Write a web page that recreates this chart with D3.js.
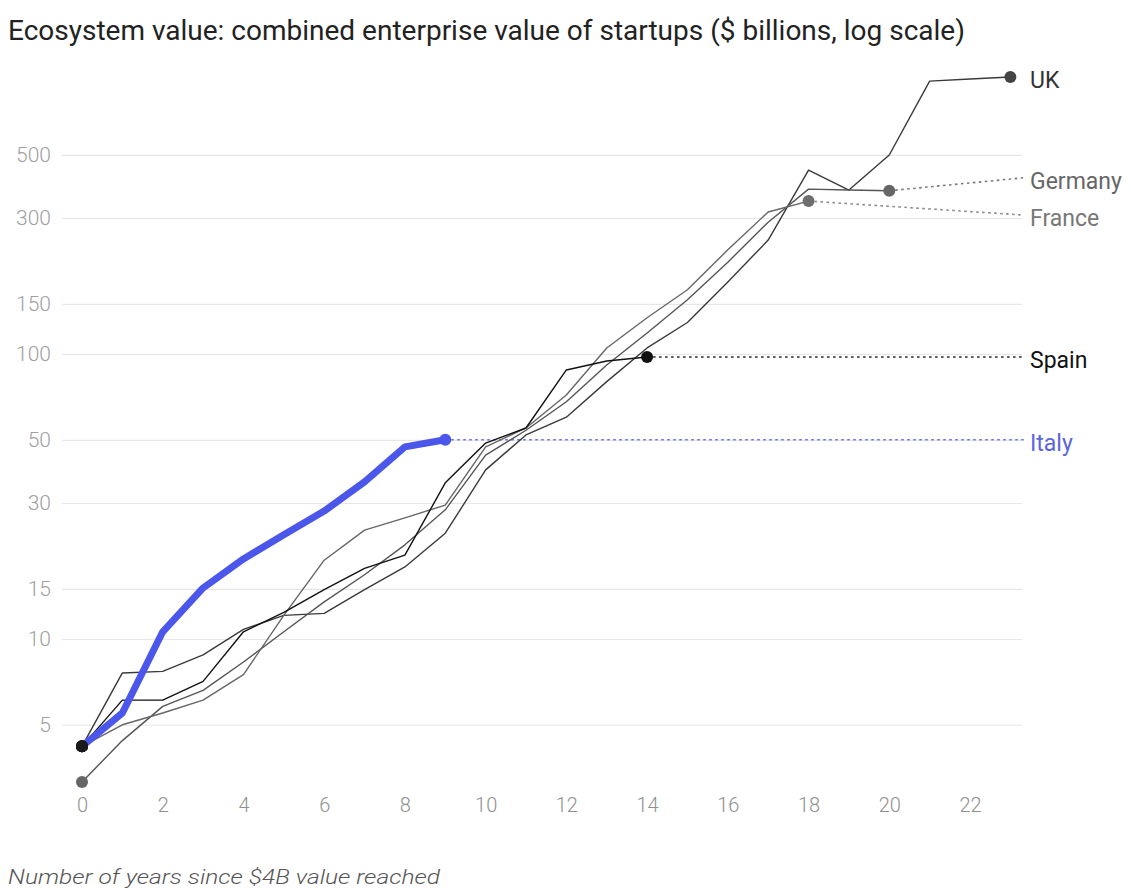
<!DOCTYPE html>
<html>
<head>
<meta charset="utf-8">
<script src="https://cdn.jsdelivr.net/npm/d3@7"></script>
<style>
  html, body { margin: 0; padding: 0; background: #fff; }
  svg { display: block; font-family: Roboto, "Open Sans", sans-serif; }
</style>
</head>
<body>
<svg id="chart" width="1131" height="888"></svg>
<script>
// Years since each ecosystem passed $4B in combined value
const years = d3.range(0, 24);

// Combined enterprise value, $ billions, one entry per year
const ukValues      = [4.2, 7.6, 7.7, 8.8, 10.8, 12.1, 12.3, 14.9, 17.9, 23.5, 39.2, 52, 60, 80, 105, 129, 179, 251, 442, 376, 499, 907, 922, 937];
const germanyValues = [3.15, 4.4, 5.8, 6.6, 8.3, 10.6, 13.5, 16.8, 21.4, 28.4, 44.2, 54, 68, 91.5, 118.5, 155, 210, 290, 379, 376, 374];
const franceValues  = [4.2, 5.0, 5.5, 6.1, 7.5, 12.1, 18.9, 24.1, 26.6, 29.5, 47.2, 55, 71.8, 105, 134, 168, 232, 315, 344];
const spainValues   = [4.2, 6.1, 6.1, 7.1, 10.6, 12.4, 14.9, 17.7, 19.7, 35.3, 48.7, 55, 87.9, 94.5, 97.6];
const italyValues   = [4.2, 5.5, 10.6, 15.1, 19.1, 23.2, 28.1, 35.6, 47.2, 50];

const countries = ["UK", "Germany", "France", "Spain", "Italy"];
const yTicks = [5, 10, 15, 30, 50, 100, 150, 300, 500];
const xTicks = d3.range(0, 23, 2);

const seriesValues = [ukValues, germanyValues, franceValues, spainValues, italyValues];

const style = {
  UK:      { line: "#3a3a3a", dot: "#444",    text: "#333",    width: 1.4, trail: null,      nudge: 0 },
  Germany: { line: "#555",    dot: "#666",    text: "#666",    width: 1.4, trail: "#777",    nudge: -13 },
  France:  { line: "#666",    dot: "#6e6e6e", text: "#777",    width: 1.4, trail: "#888",    nudge: 14 },
  Spain:   { line: "#111",    dot: "#111",    text: "#111",    width: 1.4, trail: "#222",    nudge: 0 },
  Italy:   { line: "#4a57ea", dot: "#4a57ea", text: "#5a66e0", width: 7,   trail: "#6672e4", nudge: 0 }
};

const series = countries.map((name, i) => ({
  name,
  points: seriesValues[i].map((v, j) => ({ t: years[j], v }))
}));

const svg = d3.select("#chart");

const x = d3.scaleLinear().domain([0, 22]).range([82, 970]);
const y = d3.scaleLog().domain([3, 1000]).range([788, 69]);
const labelX = 1030;
const gridLeft = 62, gridRight = 1022;

// Title
svg.append("text")
  .attr("x", 8).attr("y", 40)
  .attr("font-size", 28)
  .attr("fill", "#222")
  .text("Ecosystem value: combined enterprise value of startups ($ billions, log scale)");

// Horizontal gridlines
const gy = svg.append("g")
  .attr("transform", `translate(${gridRight},0)`)
  .call(d3.axisLeft(y).tickValues(yTicks).tickSize(gridRight - gridLeft).tickFormat(""));
gy.select(".domain").remove();
gy.selectAll(".tick line").attr("stroke", "#e6e6e6").attr("stroke-width", 1.2);

// Value labels on the left
const gyl = svg.append("g")
  .attr("transform", "translate(51,0)")
  .call(d3.axisLeft(y).tickValues(yTicks).tickSize(0).tickPadding(0).tickFormat(d3.format("d")));
gyl.select(".domain").remove();
gyl.selectAll("text")
  .attr("font-family", "Roboto, sans-serif")
  .attr("font-size", 21)
  .attr("font-weight", 300)
  .attr("fill", "#a0a0a0");

// Year labels along the bottom
const gx = svg.append("g")
  .attr("transform", "translate(0,795)")
  .call(d3.axisBottom(x).tickValues(xTicks).tickSize(0).tickPadding(0));
gx.select(".domain").remove();
gx.selectAll("text")
  .attr("font-family", "Roboto, sans-serif")
  .attr("font-size", 20)
  .attr("font-weight", 300)
  .attr("fill", "#909090")
  .attr("dy", "0.85em");

// Dotted trails from each series' latest value to its label
series.forEach(s => {
  const st = style[s.name];
  const last = s.points[s.points.length - 1];
  if (!st.trail) return;
  svg.append("line")
    .attr("x1", x(last.t)).attr("y1", y(last.v))
    .attr("x2", labelX - 6).attr("y2", y(last.v) + st.nudge)
    .attr("stroke", st.trail)
    .attr("stroke-width", 1.6)
    .attr("stroke-dasharray", "2.5,3.5");
});

const line = d3.line()
  .x(d => x(d.t))
  .y(d => y(d.v));

// Thin grey/black lines first, Italy on top
series.forEach(s => {
  const st = style[s.name];
  svg.append("path")
    .datum(s.points)
    .attr("fill", "none")
    .attr("stroke", st.line)
    .attr("stroke-width", st.width)
    .attr("stroke-linejoin", "round")
    .attr("stroke-linecap", "round")
    .attr("d", line);
});

// End markers
series.forEach(s => {
  const st = style[s.name];
  const last = s.points[s.points.length - 1];
  svg.append("circle")
    .attr("cx", x(last.t)).attr("cy", y(last.v))
    .attr("r", 6)
    .attr("fill", st.dot);
});

// Start markers drawn over the line ends
series.forEach(s => {
  const first = s.points[0];
  svg.append("circle")
    .attr("cx", x(first.t)).attr("cy", y(first.v))
    .attr("r", 6)
    .attr("fill", s.name === "Germany" ? "#666" : "#1a1a1a");
});

// Country labels
series.forEach(s => {
  const st = style[s.name];
  const last = s.points[s.points.length - 1];
  svg.append("text")
    .attr("x", labelX)
    .attr("y", y(last.v) + st.nudge + 3)
    .attr("dy", "0.36em")
    .attr("font-size", 23)
    .attr("fill", st.text)
    .text(s.name);
});

// Horizontal axis caption
svg.append("text")
  .attr("x", 8).attr("y", 884)
  .attr("font-size", 21)
  .attr("font-style", "italic")
  .attr("font-weight", 300)
  .attr("fill", "#555")
  .attr("textLength", 432)
  .attr("lengthAdjust", "spacingAndGlyphs")
  .text("Number of years since $4B value reached");
</script>
</body>
</html>
